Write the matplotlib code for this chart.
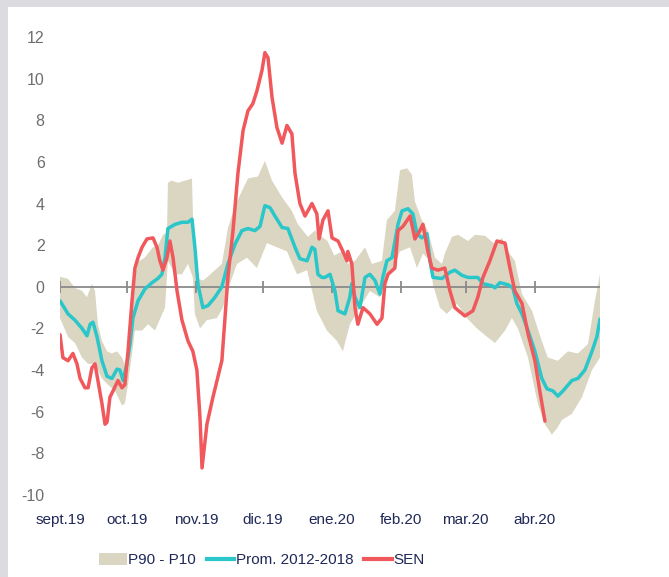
import matplotlib
matplotlib.use("Agg")
import matplotlib.pyplot as plt
import numpy as np
import pandas as pd
from matplotlib.patches import Patch
from matplotlib.lines import Line2D

plt.rcParams["font.family"] = ["Liberation Sans Narrow", "Liberation Sans", "DejaVu Sans"]
plt.rcParams["axes.unicode_minus"] = False

START = pd.Timestamp("2019-09-01")
MONTH_LABELS = ["sept.19", "oct.19", "nov.19", "dic.19", "ene.20", "feb.20", "mar.20", "abr.20"]
MONTH_STARTS = pd.date_range("2019-09-01", "2020-04-01", freq="MS")

# P90 band, upper edge (days since 1 Sep 2019, value)
band_hi_day = [0, 3.6, 6.7, 9.9, 12.1, 14.3, 15.7, 17, 18.8, 21.1, 23.3, 25.6, 27.8, 29.1,
               30.5, 32.3, 33.6, 35, 38, 41.7, 44, 46.2, 48, 48.4, 50, 53, 56, 59.2,
               60.1, 61.9, 64.1, 66.4, 69.5, 72.6, 75.3, 78.5, 81.6, 84.3, 88.8, 91.9,
               95.1, 99.6, 104, 106.7, 111.2, 114.3, 117.5, 120, 123, 126.5, 129.1, 132.3,
               136.8, 139.9, 144.4, 146.6, 150.2, 152.5, 155.6, 157.8, 159.2, 162.3, 165,
               168.2, 171.3, 172.6, 175.8, 178.5, 183, 186.1, 190.6, 195.1, 198.2, 200.9,
               204, 207.2, 211.7, 216.1, 218.8, 223.3, 227.8, 232.3, 236.8, 239.9, 242.2]
band_hi_val = [0.48, 0.38, -0.05, -0.2, -0.5, 0.14, -0.2, -1.8, -2.6, -3.1, -3.2, -3.1, -3.4, -3.7,
               -3.0, -0.5, 0.5, 1.2, 1.4, 1.9, 2.0, 2.5, 2.6, 5.0, 5.1, 5.0, 5.1, 5.2,
               1.5, 0.4, 0.3, 0.5, 0.8, 1.1, 2.8, 3.9, 4.6, 5.2, 5.3, 6.05,
               5.1, 4.3, 3.65, 3.0, 2.4, 2.7, 2.4, 2.2, 1.5, 1.7, 1.1, 1.25,
               1.9, 1.1, 1.25, 3.2, 3.65, 5.6, 5.7, 5.4, 4.1, 3.2, 2.7,
               1.4, 1.1, 1.6, 2.4, 2.5, 2.2, 2.5, 2.45, 2.05, 2.35, 1.7,
               1.25, -0.35, -1.15, -2.6, -3.4, -3.55, -3.1, -3.2, -2.75, -0.7, 0.6]

# P10 band, lower edge
band_lo_day = [0, 3.6, 6.7, 9.9, 12.6, 15.7, 18.8, 21.5, 24.7, 27.8, 29.1, 30.5, 33.6, 36.8,
               39.5, 42.6, 47.1, 48.4, 51.6, 54.7, 57.4, 59.6, 60.5, 62.8, 65.9, 70.4, 73.1,
               76.2, 79.4, 83.9, 88.3, 92.8, 97.3, 101.8, 106.3, 110.8, 115.2, 119.7, 124.2,
               126.9, 130, 134.5, 139, 143.5, 146.6, 149.3, 152.5, 157, 160.1, 162.8, 165.9,
               167.3, 170.4, 173.5, 178, 182.5, 187, 191.5, 195.1, 199.6, 202.7, 205.4,
               209.9, 214.3, 217.5, 220.6, 222.9, 225.1, 229.6, 234.1, 238.6, 242.2]
band_lo_val = [-1.5, -2.4, -2.7, -3.4, -3.7, -3.7, -4.4, -4.7, -5.0, -5.7, -5.6, -4.7, -2.1, -2.1,
               -1.8, -2.1, -1.0, 1.25, 0.6, 0.6, 1.1, 0.45, -1.3, -2.0, -1.6, -1.5, -1.0,
               0.15, 1.1, 1.4, 0.9, 2.1, 1.9, 1.7, 0.6, 0.8, -1.15, -2.1, -2.6,
               -3.1, -1.8, -1.0, -0.2, -0.5, 0.45, 0.8, 1.7, 1.9, 0.9, 1.6, 1.25,
               0.1, -1.0, -1.3, -0.8, -1.5, -2.0, -2.4, -2.7, -2.1, -1.5, -2.0,
               -3.4, -5.6, -6.6, -7.1, -6.8, -6.4, -6.1, -5.3, -4.0, -3.4]

# Prom. 2012-2018
prom_day = [0, 3.6, 6.7, 9.9, 12.1, 13.5, 14.8, 16.6, 18.8, 21.1, 23.3, 25.6, 26.9, 28.3, 30,
            31.4, 32.7, 35, 38.1, 41.3, 43.9, 45.7, 47.1, 48.4, 51.6, 54.7, 57.4, 59.2, 60.5,
            61.9, 64.1, 66.4, 69.5, 72.6, 75.3, 78.5, 81.6, 84.3, 87.4, 89.7, 91.9, 94.2,
            96.4, 99.6, 102.2, 105.4, 107.6, 110.8, 113, 114.3, 115.7, 117.5, 118.8, 121.1,
            123.3, 124.7, 127.8, 130, 130.9, 132.3, 134.5, 136.8, 139, 141.3, 143.5, 144.8,
            146.6, 148.9, 151.6, 153.4, 156.1, 158.3, 160.1, 162.3, 164.6, 165.9, 167.3,
            171.3, 174.9, 177.1, 180.3, 183, 187.4, 189.7, 193.7, 195.1, 197.3, 200.9, 203.1,
            204.9, 207.2, 209.9, 213, 216.1, 218.4, 221.1, 223.3, 225.6, 229.6, 232.3, 235.4,
            238.6, 240.8, 242.2]
prom_val = [-0.67, -1.3, -1.6, -2.0, -2.35, -1.8, -1.7, -2.4, -3.55, -4.3, -4.4, -3.95, -4.0, -4.5, -3.7,
            -2.75, -1.5, -0.67, -0.1, 0.2, 0.4, 0.6, 1.4, 2.8, 3.0, 3.1, 3.1, 3.25, 1.9,
            0.1, -1.0, -0.9, -0.5, 0.0, 1.1, 2.05, 2.7, 2.8, 2.7, 2.9, 3.9, 3.8,
            3.4, 2.85, 2.8, 1.9, 1.35, 1.25, 1.9, 1.8, 0.6, 0.45, 0.45, 0.6,
            -0.2, -1.15, -1.3, -0.5, 0.15, -0.5, -1.0, 0.45, 0.6, 0.3, -0.35, 0.45,
            1.25, 1.4, 3.0, 3.65, 3.75, 3.5, 2.55, 2.35, 2.55, 1.25, 0.45,
            0.4, 0.7, 0.8, 0.55, 0.45, 0.45, 0.15, 0.05, -0.05, 0.2, 0.1, -0.05,
            -0.8, -1.3, -2.1, -3.1, -4.4, -4.9, -5.0, -5.25, -5.0, -4.5, -4.4, -4.0,
            -3.1, -2.4, -1.55]

# SEN
sen_day = [0, 1.3, 3.6, 5.8, 7.6, 9, 11.2, 12.6, 14.3, 15.7, 17, 18.8, 20.2, 21.1, 22.4, 23.8,
           26, 27.8, 29.1, 30.5, 32.3, 33.6, 35, 36.8, 39, 41.7, 43.5, 44.8, 46.2, 48, 49.3,
           50.7, 52.5, 54.7, 57.4, 59.6, 61.4, 62.8, 63.7, 65.9, 68.6, 72.6, 74, 75.3, 77.6,
           79.8, 82.1, 84.3, 86.5, 88.3, 90.6, 91.9, 93.3, 95.1, 97.3, 99.6, 101.8, 104,
           105.4, 107.6, 109.9, 113, 115.2, 116.2, 117.9, 120.2, 122, 124.7, 126.9, 128.7,
           129.1, 130.9, 132.3, 133.6, 135.9, 139, 142.2, 144.4, 145.7, 147.1, 150.2, 151.6,
           153.8, 157, 159.2, 161.4, 162.8, 165, 166.8, 169.5, 172.6, 174.9, 177.1, 181.6,
           185.2, 187.4, 189.7, 192.8, 196, 199.6, 201.8, 204, 207.2, 209.9, 213, 215.2, 217.5]
sen_val = [-2.3, -3.4, -3.55, -3.2, -3.7, -4.4, -4.85, -4.85, -3.9, -3.7, -4.5, -5.6, -6.6, -6.5, -5.3, -5.0,
           -4.5, -4.85, -4.7, -3.1, -0.67, 0.9, 1.4, 1.9, 2.3, 2.35, 1.9, 1.25, 0.8, 1.4, 2.2,
           1.4, -0.2, -1.6, -2.6, -3.1, -4.0, -6.3, -8.7, -6.6, -5.3, -3.55, -1.5, 0.45, 2.7,
           5.45, 7.5, 8.45, 8.8, 9.4, 10.4, 11.25, 11.0, 9.1, 7.65, 6.9, 7.75, 7.35,
           5.45, 4.0, 3.4, 4.0, 3.5, 2.3, 3.2, 3.65, 2.35, 2.2, 1.7, 1.25,
           1.7, 1.1, -1.0, -1.8, -1.0, -1.3, -1.8, -1.5, 0.15, 0.6, 0.9, 2.7,
           2.9, 3.4, 2.3, 2.7, 3.0, 1.7, 0.9, 0.8, 0.9, -0.2, -1.0, -1.4,
           -1.15, -0.5, 0.45, 1.25, 2.2, 2.1, 0.9, -0.2, -0.8, -2.25, -3.55, -5.0, -6.45]

BAND_COLOR = "#DAD6C2"
PROM_COLOR = "#29C6CA"
SEN_COLOR = "#F0585B"
TEXT_NAVY = "#1F2858"

fig = plt.figure(figsize=(6.69, 5.77), dpi=100, facecolor="#DCDCE0")
bg = fig.add_axes([8 / 669, 0, 1 - 8 / 669, 1 - 7 / 577], zorder=-5)
bg.set_facecolor("white")
bg.set_xticks([])
bg.set_yticks([])
for s in bg.spines.values():
    s.set_visible(False)

ax = fig.add_axes([60 / 669, 1 - 495 / 577, 540 / 669, 458 / 577])
ax.set_facecolor("none")

band_x = np.concatenate([band_hi_day, band_lo_day[::-1]])
band_y = np.concatenate([band_hi_val, band_lo_val[::-1]])
ax.fill(band_x, band_y, color=BAND_COLOR, linewidth=0, zorder=1)

month_days = np.array([(d - START).days for d in MONTH_STARTS])
ax.axhline(0, color="#8A8A8A", linewidth=1.3, zorder=2)
ax.vlines(month_days, -0.3, 0.3, color="#8A8A8A", linewidth=1.3, zorder=2)

ax.plot(prom_day, prom_val, color=PROM_COLOR, linewidth=2.5, zorder=3,
        solid_joinstyle="round", solid_capstyle="round")
ax.plot(sen_day, sen_val, color=SEN_COLOR, linewidth=2.5, zorder=4,
        solid_joinstyle="round", solid_capstyle="round")

ax.set_xlim(0, 242.2)
ax.set_ylim(-10, 12)
ax.set_yticks(np.arange(-10, 13, 2))
ax.set_xticks(month_days)
ax.set_xticklabels(MONTH_LABELS)
for s in ax.spines.values():
    s.set_visible(False)
ax.tick_params(axis="y", length=0, pad=11, labelsize=11.5, labelcolor="#6E6E6E")
ax.tick_params(axis="x", length=0, pad=13, labelsize=11, labelcolor=TEXT_NAVY)

handles = [
    Patch(facecolor=BAND_COLOR, edgecolor="none"),
    Line2D([], [], color=PROM_COLOR, linewidth=3),
    Line2D([], [], color=SEN_COLOR, linewidth=3),
]
labels = ["P90 - P10", "Prom. 2012-2018", "SEN"]
leg = fig.legend(handles, labels, loc="center", bbox_to_anchor=(262 / 669, 1 - 560 / 577),
                 ncol=3, frameon=False, fontsize=11, handlelength=1.8, handleheight=0.8,
                 handletextpad=0.1, columnspacing=0.7, borderaxespad=0)
for t in leg.get_texts():
    t.set_color(TEXT_NAVY)

fig.savefig("out.png", dpi=100, facecolor=fig.get_facecolor())
